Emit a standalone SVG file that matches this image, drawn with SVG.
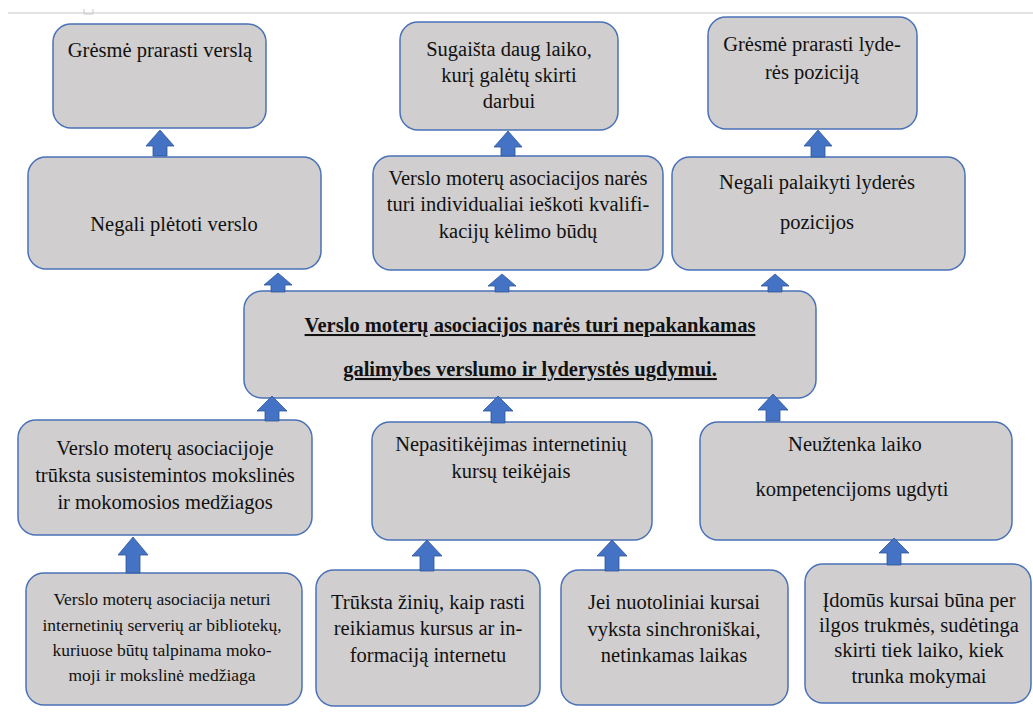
<svg xmlns="http://www.w3.org/2000/svg" width="1033" height="715" viewBox="0 0 1033 715">
<style>
.box{fill:#d0cece;stroke:#4a72b8;stroke-width:1.5}
.t{font-family:'Liberation Serif','DejaVu Serif',serif;font-size:20.5px;fill:#111;text-anchor:middle}
.s{font-size:17.5px}
.b{font-weight:bold;text-decoration:underline}
.arr{fill:#4472c4;stroke:#2f5597;stroke-width:0.8}
</style>
<rect x="0" y="0" width="1033" height="715" fill="#fff"/>
<line x1="8" y1="13" x2="1033" y2="13" stroke="#e3e3e3" stroke-width="2"/>
<path d="M84 9 V14 H93 V9" fill="none" stroke="#c8c8c8" stroke-width="1"/>

<g id="node-gresme-versla">
<rect class="box" x="53" y="24" width="213" height="104" rx="18"/>
<text class="t" x="160" y="57">Grėsmė prarasti verslą</text>
</g>
<g id="node-sugaista">
<rect class="box" x="400" y="22" width="218" height="108" rx="18"/>
<text class="t" x="509" y="56">Sugaišta daug laiko,</text>
<text class="t" x="509" y="82">kurį galėtų skirti</text>
<text class="t" x="509" y="108">darbui</text>
</g>
<g id="node-gresme-lyderes">
<rect class="box" x="708" y="17" width="209" height="112" rx="18"/>
<text class="t" x="812" y="51">Grėsmė prarasti lyde-</text>
<text class="t" x="812" y="79">rės poziciją</text>
</g>
<g id="node-negali-pletoti">
<rect class="box" x="28" y="157" width="293" height="112" rx="18"/>
<text class="t" x="174" y="231">Negali plėtoti verslo</text>
</g>
<g id="node-individualiai">
<rect class="box" x="373" y="156" width="290" height="114" rx="18"/>
<text class="t" x="518" y="185">Verslo moterų asociacijos narės</text>
<text class="t" x="518" y="211">turi individualiai ieškoti kvalifi-</text>
<text class="t" x="518" y="238">kacijų kėlimo būdų</text>
</g>
<g id="node-negali-palaikyti">
<rect class="box" x="672" y="157" width="293" height="113" rx="18"/>
<text class="t" x="817" y="189">Negali palaikyti lyderės</text>
<text class="t" x="817" y="229">pozicijos</text>
</g>
<g id="node-central">
<rect class="box" x="244" y="291" width="572" height="107" rx="18"/>
<text class="t b" x="530" y="332">Verslo moterų asociacijos narės turi nepakankamas</text>
<text class="t b" x="530" y="376">galimybes verslumo ir lyderystės ugdymui.</text>
</g>
<g id="node-truksta-medziagos">
<rect class="box" x="18" y="420" width="294" height="115" rx="18"/>
<text class="t" x="165" y="455">Verslo moterų asociacijoje</text>
<text class="t" x="165" y="482">trūksta susistemintos mokslinės</text>
<text class="t" x="165" y="509">ir mokomosios medžiagos</text>
</g>
<g id="node-nepasitikejimas">
<rect class="box" x="372" y="422" width="280" height="118" rx="18"/>
<text class="t" x="511" y="451">Nepasitikėjimas internetinių</text>
<text class="t" x="511" y="478">kursų teikėjais</text>
</g>
<g id="node-neuztenka">
<rect class="box" x="700" y="422" width="312" height="118" rx="18"/>
<text class="t" x="855" y="451">Neužtenka laiko</text>
<text class="t" x="852" y="496">kompetencijoms ugdyti</text>
</g>
<g id="node-serveriai">
<rect class="box" x="26" y="573" width="276" height="132" rx="18"/>
<text class="t s" x="162" y="605">Verslo moterų asociacija neturi</text>
<text class="t s" x="162" y="631">internetinių serverių ar bibliotekų,</text>
<text class="t s" x="162" y="656">kuriuose būtų talpinama moko-</text>
<text class="t s" x="162" y="681">moji ir mokslinė medžiaga</text>
</g>
<g id="node-truksta-ziniu">
<rect class="box" x="316" y="570" width="224" height="136" rx="18"/>
<text class="t" x="428" y="609">Trūksta žinių, kaip rasti</text>
<text class="t" x="428" y="635">reikiamus kursus ar in-</text>
<text class="t" x="428" y="662">formaciją internetu</text>
</g>
<g id="node-sinchroniskai">
<rect class="box" x="561" y="570" width="227" height="135" rx="18"/>
<text class="t" x="674" y="609">Jei nuotoliniai kursai</text>
<text class="t" x="674" y="636">vyksta sinchroniškai,</text>
<text class="t" x="674" y="662">netinkamas laikas</text>
</g>
<g id="node-idomus-kursai">
<rect class="box" x="805" y="564" width="226" height="139" rx="18"/>
<text class="t" x="919" y="607">Įdomūs kursai būna per</text>
<text class="t" x="919" y="632">ilgos trukmės, sudėtinga</text>
<text class="t" x="919" y="657">skirti tiek laiko, kiek</text>
<text class="t" x="919" y="683">trunka mokymai</text>
</g>

<g id="connectors">
<polygon class="arr" points="160,130 174,146 167,146 167,156 153,156 153,146 146,146"/>
<polygon class="arr" points="508,131 522,147 515,147 515,156 501,156 501,147 494,147"/>
<polygon class="arr" points="818,130 832,146 825,146 825,157 811,157 811,146 804,146"/>
<polygon class="arr" points="278,273 292,285 285,285 285,292 271,292 271,285 264,285"/>
<polygon class="arr" points="502,274 516,286 509,286 509,292 495,292 495,286 488,286"/>
<polygon class="arr" points="775,274 789,286 782,286 782,292 768,292 768,286 761,286"/>
<polygon class="arr" points="272,396 287,411 279,411 279,421 265,421 265,411 257,411"/>
<polygon class="arr" points="498,396 513,411 505,411 505,423 491,423 491,411 483,411"/>
<polygon class="arr" points="773,394 788,410 780,410 780,421 766,421 766,410 758,410"/>
<polygon class="arr" points="133,537 148,555 140,555 140,573 126,573 126,555 118,555"/>
<polygon class="arr" points="427,540 442,556 434,556 434,571 420,571 420,556 412,556"/>
<polygon class="arr" points="612,540 627,556 619,556 619,571 605,571 605,556 597,556"/>
<polygon class="arr" points="894,538 909,553 901,553 901,565 887,565 887,553 879,553"/>
</g>
</svg>
